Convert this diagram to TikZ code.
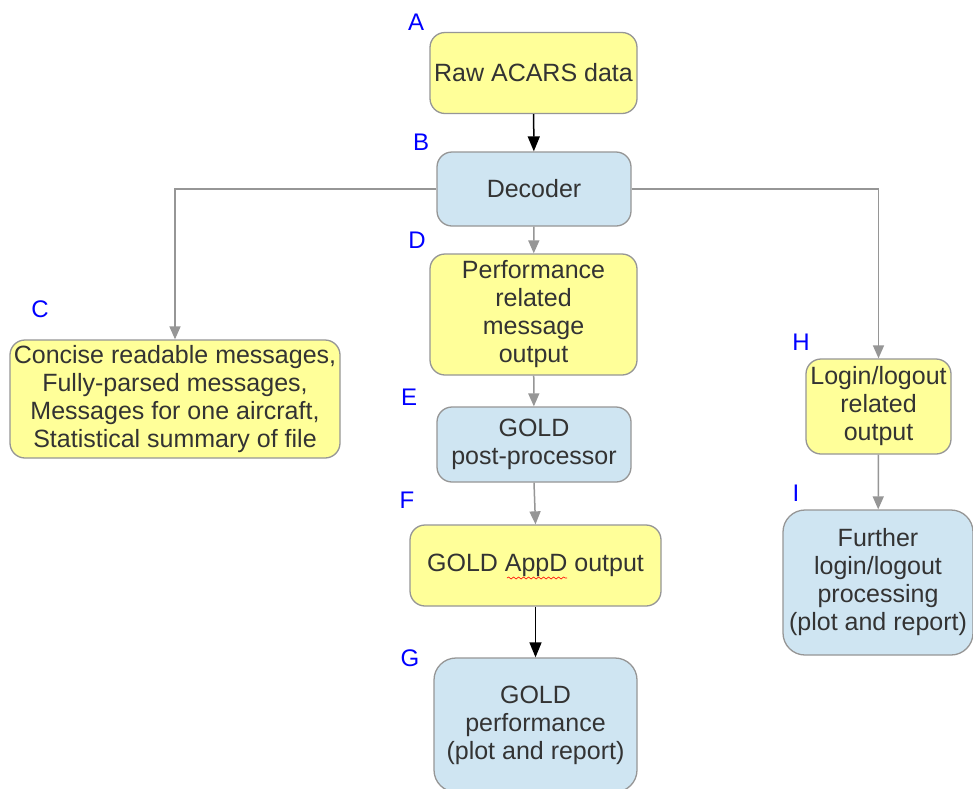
\documentclass[tikz,border=0pt]{standalone}
\usepackage{fontspec}
\setmainfont{Liberation Sans}
\usetikzlibrary{arrows.meta, decorations.pathmorphing}
\definecolor{BoxYellow}{RGB}{255, 255, 153}
\definecolor{BoxBlue}{RGB}{207, 229, 242}
\definecolor{EdgeGray}{RGB}{150, 150, 150}
\definecolor{TextGray}{RGB}{51, 51, 51}

\begin{document}
\begin{tikzpicture}[x=1pt, y=-1pt,
    box/.style={draw=EdgeGray, line width=1.3pt, rounded corners=15pt, inner sep=0pt,
      align=center, text=TextGray, font=\fontsize{25}{28}\selectfont},
    yellowbox/.style={box, fill=BoxYellow},
    bluebox/.style={box, fill=BoxBlue},
    tag/.style={text=blue, font=\fontsize{24}{28}\selectfont},
    grayflow/.style={draw=EdgeGray, line width=1.5pt, -{Triangle[length=13pt, width=11pt]}},
    blackflow/.style={draw=black, line width=1.5pt, -{Triangle[length=15pt, width=12pt]}}]
    \clip (0,0) rectangle (973,788);
    \fill[white] (0,0) rectangle (973,788);

    % Boxes
    \node[yellowbox, minimum width=207pt, minimum height=81pt] (raw) at (533.5,73) {Raw ACARS data};
    \node[bluebox, minimum width=194pt, minimum height=74pt] (decoder) at (534,189) {Decoder};
    \node[yellowbox, minimum width=207pt, minimum height=121pt] (perf) at (533.5,314.5) {Performance\\related\\message\\output};
    \node[yellowbox, minimum width=330pt, minimum height=118pt] (readable) at (175,399) {Concise readable messages,\\Fully-parsed messages,\\Messages for one aircraft,\\Statistical summary of file};
    \node[bluebox, minimum width=194pt, minimum height=75pt] (postproc) at (534,444.5) {GOLD\\post-processor};
    \node[yellowbox, minimum width=251pt, minimum height=81pt] (appd) at (535.5,565.5) {GOLD AppD output};
    \node[bluebox, rounded corners=22pt, minimum width=203pt, minimum height=134pt] (goldperf) at (535.5,725) {GOLD\\performance\\(plot and report)};
    \node[yellowbox, minimum width=145pt, minimum height=95pt] (login) at (878.5,406.5) {Login/logout\\related\\output};
    \node[bluebox, rounded corners=22pt, minimum width=190pt, minimum height=145pt] (further) at (878,582.5) {Further\\login/logout\\processing\\(plot and report)};

    % Spell-check mark
    \draw[red, line width=0.6pt, decorate, decoration={snake, segment length=5pt, amplitude=1pt}] (507,578) -- (567,578);

    % Letters
    \node[tag] (tagA) at (416,22) {A};
    \node[tag] (tagB) at (421,142) {B};
    \node[tag] (tagC) at (40,309) {C};
    \node[tag] (tagD) at (417,240) {D};
    \node[tag] (tagE) at (409,397) {E};
    \node[tag] (tagF) at (407,500) {F};
    \node[tag] (tagG) at (410,658) {G};
    \node[tag] (tagH) at (801,342) {H};
    \node[tag] (tagI) at (796,493) {I};

    % Flow
    \draw[blackflow] (raw) -- (decoder);
    \draw[grayflow] (decoder) -- (perf);
    \draw[grayflow] (decoder.west) -| (readable.north);
    \draw[grayflow] (decoder.east) -| (login.north);
    \draw[grayflow] (perf) -- (postproc);
    \draw[grayflow] (postproc.south) -- (appd.north);
    \draw[blackflow] (appd) -- (goldperf);
    \draw[grayflow] (login) -- (further);
  \end{tikzpicture}
\end{document}
